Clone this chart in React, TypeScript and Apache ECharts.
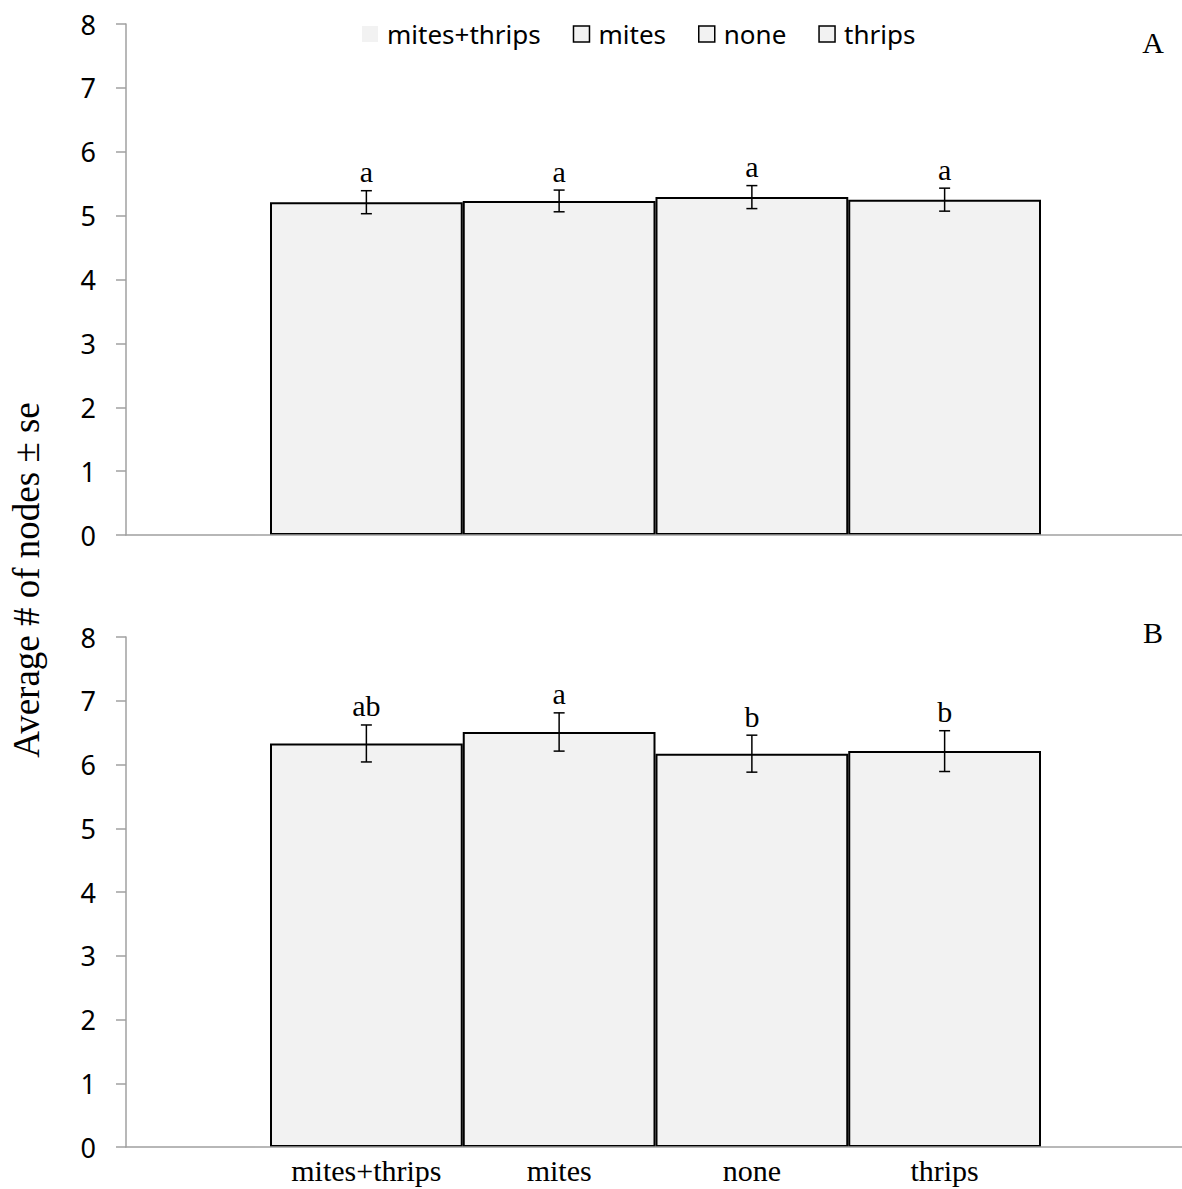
import React, { useEffect, useRef } from "react";
import * as echarts from "echarts";

const categories = ["mites+thrips", "mites", "none", "thrips"];
const meansA = [5.21, 5.23, 5.29, 5.25];
const seA = [0.18, 0.17, 0.18, 0.18];
const lettersA = ["a", "a", "a", "a"];
const meansB = [6.33, 6.51, 6.17, 6.21];
const seB = [0.29, 0.3, 0.29, 0.32];
const lettersB = ["ab", "a", "b", "b"];
const yTicks = [0, 1, 2, 3, 4, 5, 6, 7, 8];
const panelLabels = ["A", "B"];
const yTitle = "Average # of nodes ± se";

const AXIS_GRAY = "#a0a0a0";
const FILL = "#f2f2f2";
const SERIF = '"Liberation Serif", "Times New Roman", serif';
const SANS = '"Noto Sans", sans-serif';

export default function App() {
  const ref = useRef<HTMLDivElement>(null);
  useEffect(() => {
    if (!ref.current) return;
    const chart = echarts.init(ref.current, undefined, { renderer: "svg" });

    const panels = [
      { top: 24, height: 511, means: meansA, se: seA, letters: lettersA, showLabels: false },
      { top: 637, height: 510, means: meansB, se: seB, letters: lettersB, showLabels: true },
    ];

    const grids: any[] = [];
    const xAxes: any[] = [];
    const yAxes: any[] = [];
    const series: any[] = [];

    panels.forEach((p, pi) => {
      grids.push({ left: 126, top: p.top, width: 1059, height: p.height, outerBoundsMode: "none" });
      grids.push({ left: 270, top: p.top, width: 771, height: p.height, outerBoundsMode: "none" });
      const outer = pi * 2;
      const inner = pi * 2 + 1;
      xAxes.push({
        type: "category",
        gridIndex: outer,
        data: [""],
        axisLine: { show: true, lineStyle: { color: AXIS_GRAY, width: 1.5 } },
        axisTick: { show: false },
        axisLabel: { show: false },
        z: 5,
      });
      xAxes.push({
        type: "category",
        gridIndex: inner,
        data: categories,
        axisLine: { show: false },
        axisTick: { show: false },
        axisLabel: {
          show: p.showLabels,
          interval: 0,
          fontFamily: SERIF,
          fontSize: 30,
          color: "#000",
          margin: 8,
        },
      });
      yAxes.push({
        type: "value",
        gridIndex: outer,
        min: yTicks[0],
        max: yTicks[yTicks.length - 1],
        interval: 1,
        splitLine: { show: false },
        axisLine: { show: true, lineStyle: { color: AXIS_GRAY, width: 1.5 } },
        axisTick: { show: true, inside: false, length: 10, lineStyle: { color: AXIS_GRAY, width: 1.5 } },
        axisLabel: { fontFamily: SANS, fontSize: 27, color: "#000", margin: 30 },
      });
      yAxes.push({
        type: "value",
        gridIndex: inner,
        min: yTicks[0],
        max: yTicks[yTicks.length - 1],
        show: false,
      });

      categories.forEach((c, i) => {
        series.push({
          type: "bar",
          name: c,
          xAxisIndex: inner,
          yAxisIndex: inner,
          stack: "panel" + pi,
          barCategoryGap: "0%",
          itemStyle: { color: FILL, borderColor: "#000", borderWidth: 2 },
          data: categories.map((_, j) => (j === i ? p.means[i] : "-")),
          z: 2,
        });
      });

      series.push({
        type: "custom",
        xAxisIndex: inner,
        yAxisIndex: inner,
        z: 4,
        data: categories.map((_, i) => [i, p.means[i], p.se[i]]),
        encode: { x: 0, y: 1 },
        renderItem: (params: any, api: any) => {
          const xi = api.value(0);
          const m = api.value(1);
          const s = api.value(2);
          const top = api.coord([xi, m + s]);
          const bot = api.coord([xi, m - s]);
          const x = top[0];
          const cap = 5.5;
          const ls = { stroke: "#000", lineWidth: 1.5 };
          return {
            type: "group",
            children: [
              { type: "line", shape: { x1: x, y1: top[1], x2: x, y2: bot[1] }, style: ls },
              { type: "line", shape: { x1: x - cap, y1: top[1], x2: x + cap, y2: top[1] }, style: ls },
              { type: "line", shape: { x1: x - cap, y1: bot[1], x2: x + cap, y2: bot[1] }, style: ls },
              {
                type: "text",
                style: {
                  text: p.letters[params.dataIndex],
                  x: x,
                  y: top[1] - 4,
                  align: "center",
                  verticalAlign: "bottom",
                  fontFamily: SERIF,
                  fontSize: 30,
                  fill: "#000",
                },
              },
            ],
          };
        },
      });
    });

    chart.setOption({
      animation: false,
      backgroundColor: "#fff",
      grid: grids,
      xAxis: xAxes,
      yAxis: yAxes,
      series,
      legend: {
        left: 357,
        top: 16,
        itemWidth: 16,
        itemHeight: 16,
        itemGap: 32,
        icon: "rect",
        selectedMode: false,
        textStyle: { fontFamily: SANS, fontSize: 26, color: "#000", padding: [0, 0, 0, 4] },
        data: categories.map((c, i) => ({
          name: c,
          itemStyle: i === 0
            ? { color: FILL, borderWidth: 0 }
            : { color: FILL, borderColor: "#000", borderWidth: 1.5 },
        })),
      },
      graphic: [
        {
          type: "text",
          x: 26,
          y: 580,
          rotation: Math.PI / 2,
          style: {
            text: yTitle,
            align: "center",
            verticalAlign: "middle",
            fontFamily: SERIF,
            fontSize: 37,
            fill: "#000",
          },
        },
        {
          type: "text",
          x: 1153,
          y: 42,
          style: { text: panelLabels[0], align: "center", verticalAlign: "middle", fontFamily: SERIF, fontSize: 30, fill: "#000" },
        },
        {
          type: "text",
          x: 1153,
          y: 632,
          style: { text: panelLabels[1], align: "center", verticalAlign: "middle", fontFamily: SERIF, fontSize: 30, fill: "#000" },
        },
      ],
    });

    return () => chart.dispose();
  }, []);

  return (
    <div
      ref={ref}
      style={{ position: "fixed", left: 0, top: 0, width: 1182, height: 1189, background: "#fff" }}
    />
  );
}
